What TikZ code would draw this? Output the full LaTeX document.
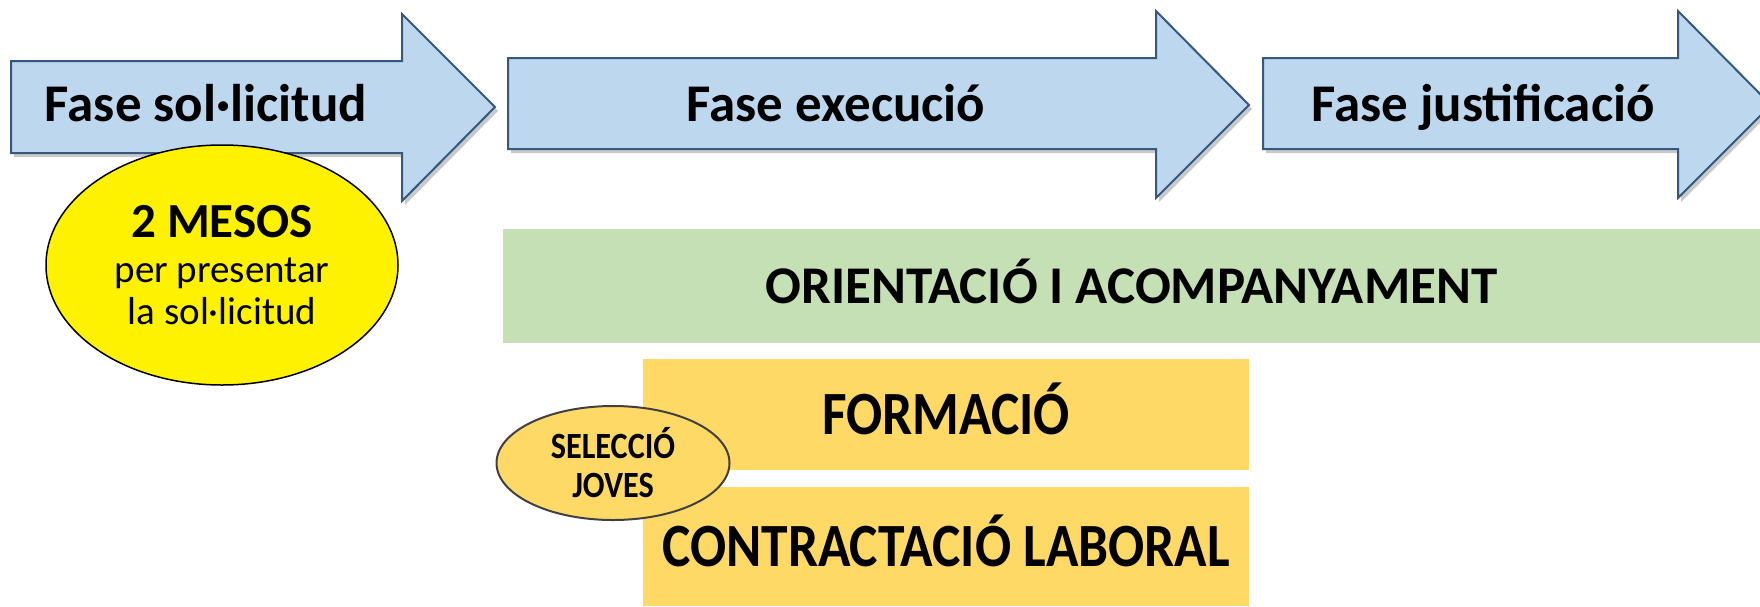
\documentclass[tikz,border=0pt]{standalone}
\usepackage{fontspec}
\setmainfont{Carlito}
\newfontfamily\narrowfont{Carlito}[FakeStretch=0.87]
\usetikzlibrary{shapes.geometric,shadows}
\definecolor{phaseblue}{HTML}{BDD7EE}
\definecolor{phaseline}{HTML}{35587F}
\definecolor{taskgreen}{HTML}{C5E0B4}
\definecolor{taskgold}{HTML}{FFD966}
\tikzset{
  phase/.style={fill=phaseblue,draw=phaseline,line width=2pt,
    drop shadow={shadow xshift=3pt,shadow yshift=-4pt,opacity=0.3,fill=black!70}},
  phaselabel/.style={anchor=base,inner sep=0pt,font=\fontsize{53}{60}\selectfont\bfseries},
  taskbox/.style={rectangle,inner sep=0pt,text height=#1,text depth=0pt},
}
\begin{document}
\begin{tikzpicture}[x=1pt,y=-1pt]
    \useasboundingbox (0,0) rectangle (1760,606);
    % phases
    \draw[phase] (11,61) -- (402,61) -- (402,14) -- (495,107) -- (402,201) -- (402,153) -- (11,153) -- cycle;
    \draw[phase] (508,58) -- (1156,58) -- (1156,11) -- (1249,105) -- (1156,198) -- (1156,149) -- (508,149) -- cycle;
    \draw[phase] (1263,58) -- (1678,58) -- (1678,11) -- (1771,105) -- (1678,198) -- (1678,149) -- (1263,149) -- cycle;
    \node[phaselabel] (sol) at (206,121) {Fase sol·licitud};
    \node[phaselabel] (exec) at (836,121) {Fase execució};
    \node[phaselabel] (just) at (1483,121) {Fase justificació};
    % deadline
    \node[ellipse,draw=black,line width=1.5pt,fill=yellow,minimum width=352pt,minimum height=240pt,
      inner sep=0pt,align=center,font=\fontsize{39}{42}\selectfont] (termini) at (222,265)
      {{\fontsize{49}{42}\selectfont\bfseries 2 MESOS}\\[3pt] per presentar\\ la sol·licitud};
    % tasks
    \node[taskbox=34pt,fill=taskgreen,minimum width=1257pt,minimum height=114pt,
      font=\fontsize{53}{60}\selectfont\bfseries] (orient) at (1131.5,286) {ORIENTACIÓ I ACOMPANYAMENT};
    \node[taskbox=39.5pt,fill=taskgold,minimum width=606pt,minimum height=111pt,
      font=\fontsize{61.5}{60}\narrowfont\bfseries] (form) at (946,414.5) {FORMACIÓ};
    \node[taskbox=39.5pt,fill=taskgold,minimum width=606pt,minimum height=119pt,
      font=\fontsize{61.5}{60}\narrowfont\bfseries] (contr) at (946,546.5) {CONTRACTACIÓ LABORAL};
    \node[ellipse,draw=black!75,line width=2pt,fill=taskgold,minimum width=233pt,minimum height=114pt,
      inner sep=0pt,align=center,font=\fontsize{37}{39}\narrowfont\bfseries] (sel) at (613,463) {SELECCIÓ\\ JOVES};
\end{tikzpicture}
\end{document}
